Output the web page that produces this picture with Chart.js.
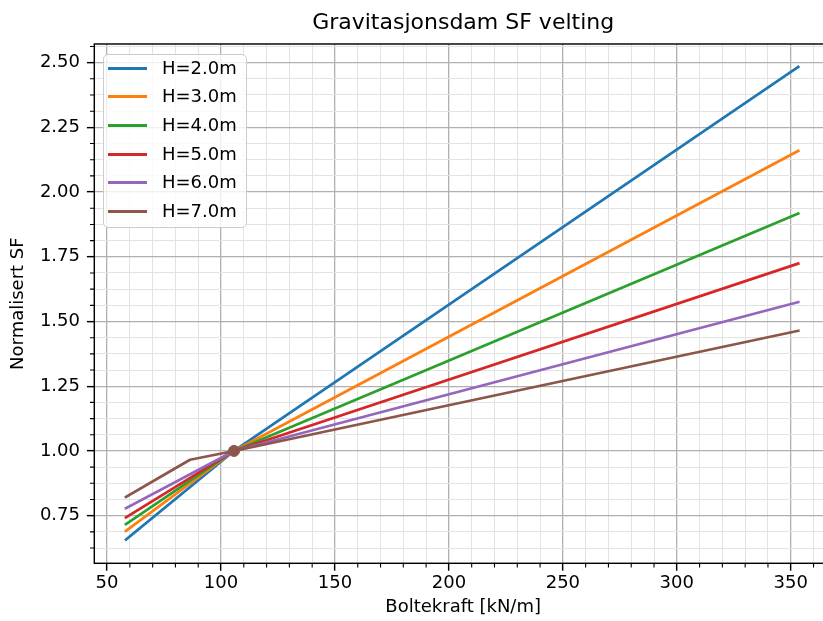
<!DOCTYPE html>
<html lang="no">
<head>
<meta charset="utf-8">
<title>Gravitasjonsdam SF velting</title>
<style>
  html, body { margin: 0; padding: 0; background: #fff; overflow: hidden; }
  #wrap { position: relative; width: 823px; height: 621px; overflow: hidden; }
  #chart { position: absolute; left: 0; top: 0; }
  #legend {
    position: absolute; left: 103px; top: 54px; width: 144px; height: 174px;
    box-sizing: border-box; border: 1.5px solid #cccccc; border-radius: 5px;
    background: rgba(255,255,255,0.8);
    font-family: 'DejaVu Sans'; font-size: 18px; color: #000;
  }
  .row { position: absolute; left: 0; width: 130px; height: 22px; line-height: 22px; white-space: nowrap; }
  .swatch { position: absolute; left: 4px; top: 10px; width: 39px; height: 3px; }
  .lbl { position: absolute; left: 58px; top: 0; }
</style>
</head>
<body>
<div id="wrap">
  <canvas id="chart" width="840" height="621"></canvas>
  <div id="legend"></div>
</div>
<script src="https://cdn.jsdelivr.net/npm/chart.js@4.4.1/dist/chart.umd.min.js"></script>
<script>
// data
const seriesLabels = ['H=2.0m', 'H=3.0m', 'H=4.0m', 'H=5.0m', 'H=6.0m', 'H=7.0m'];
const seriesColors = ['#1f77b4', '#ff7f0e', '#2ca02c', '#d62728', '#9467bd', '#8c564b'];
const boltX   = [58.3, 105.7, 353.3];
const boltXH7 = [58.3, 86.4, 105.7, 353.3];
const sfH2 = [0.658, 1.0, 2.484];
const sfH3 = [0.691, 1.0, 2.159];
const sfH4 = [0.717, 1.0, 1.917];
const sfH5 = [0.743, 1.0, 1.724];
const sfH6 = [0.779, 1.0, 1.575];
const sfH7 = [0.822, 0.966, 1.0, 1.464];
const refX = [105.7];
const refY = [1.0];

const seriesX = [boltX, boltX, boltX, boltX, boltX, boltXH7];
const seriesY = [sfH2, sfH3, sfH4, sfH5, sfH6, sfH7];

const xMin = 44.4, xMax = 368.1;
const yMin = 0.566, yMax = 2.572;

Chart.defaults.font.family = 'DejaVu Sans';
Chart.defaults.font.size = 18;
Chart.defaults.color = '#000';

function isMajorX(v) { return Math.abs(v / 50 - Math.round(v / 50)) < 1e-6; }
function isMajorY(v) { return Math.abs(v * 4 - Math.round(v * 4)) < 1e-6; }

var datasets = seriesLabels.map(function (lab, i) {
  return {
    label: lab,
    data: seriesX[i].map(function (x, j) { return {x: x, y: seriesY[i][j]}; }),
    borderColor: seriesColors[i],
    backgroundColor: seriesColors[i],
    borderWidth: 2.7,
    borderCapStyle: 'square',
    borderJoinStyle: 'round',
    pointRadius: 0,
    tension: 0,
    order: seriesLabels.length - i
  };
});
datasets.push({
  label: 'ref',
  data: refX.map(function (x, j) { return {x: x, y: refY[j]}; }),
  showLine: false,
  pointRadius: 5.5,
  pointBackgroundColor: seriesColors[5],
  pointBorderColor: seriesColors[5],
  pointBorderWidth: 1,
  order: 0
});

// minor ticks and axes frame
const framePlugin = {
  id: 'frame',
  afterDraw: function (chart) {
    var c = chart.ctx, a = chart.chartArea;
    var xs = chart.scales.x, ys = chart.scales.y;
    c.save();
    c.strokeStyle = '#000';
    c.lineWidth = 1.1;
    c.beginPath();
    xs.ticks.forEach(function (t) {
      if (isMajorX(t.value)) return;
      var px = xs.getPixelForValue(t.value);
      c.moveTo(px, a.bottom); c.lineTo(px, a.bottom + 4.3);
    });
    ys.ticks.forEach(function (t) {
      if (isMajorY(t.value)) return;
      var py = ys.getPixelForValue(t.value);
      c.moveTo(a.left - 4.3, py); c.lineTo(a.left, py);
    });
    c.stroke();
    c.lineWidth = 1.44;
    c.strokeRect(a.left, a.top, a.right - a.left, a.bottom - a.top);
    c.restore();
  }
};

new Chart(document.getElementById('chart'), {
  type: 'line',
  data: { datasets: datasets },
  options: {
    responsive: false,
    animation: false,
    layout: { padding: { left: 0, top: 0, right: 8, bottom: 0 } },
    plugins: {
      legend: { display: false },
      tooltip: { enabled: false },
      title: {
        display: true,
        text: 'Gravitasjonsdam SF velting',
        fullSize: false,
        font: { size: 22, weight: 'normal' },
        color: '#000',
        padding: { top: 10, bottom: 7.6 }
      }
    },
    scales: {
      x: {
        type: 'linear',
        min: xMin, max: xMax,
        afterBuildTicks: function (s) {
          var t = [];
          for (var v = Math.ceil(xMin / 10) * 10; v <= xMax; v += 10) t.push({value: v});
          s.ticks = t;
        },
        afterFit: function (s) { s.height = 57.7; },
        ticks: {
          autoSkip: false, maxRotation: 0, padding: 2,
          callback: function (v) { return isMajorX(v) ? String(Math.round(v)) : ''; }
        },
        grid: {
          color: function (ctx) { return isMajorX(ctx.tick.value) ? '#b0b0b0' : '#e3e3e3'; },
          lineWidth: function (ctx) { return isMajorX(ctx.tick.value) ? 1.3 : 1; },
          tickLength: 7.4,
          tickColor: function (ctx) { return isMajorX(ctx.tick.value) ? '#000' : 'rgba(0,0,0,0)'; },
          tickWidth: 1.44
        },
        border: { display: false },
        title: { display: true, text: 'Boltekraft [kN/m]', padding: { top: 0, bottom: 3.2 } }
      },
      y: {
        type: 'linear',
        min: yMin, max: yMax,
        afterBuildTicks: function (s) {
          var t = [];
          for (var k = Math.ceil(yMin / 0.0625); k * 0.0625 <= yMax; k++) t.push({value: k * 0.0625});
          s.ticks = t;
        },
        afterFit: function (s) { s.width = 94.3; },
        ticks: {
          autoSkip: false, padding: 6.9,
          callback: function (v) { return isMajorY(v) ? v.toFixed(2) : ''; }
        },
        grid: {
          color: function (ctx) { return isMajorY(ctx.tick.value) ? '#b0b0b0' : '#e3e3e3'; },
          lineWidth: function (ctx) { return isMajorY(ctx.tick.value) ? 1.3 : 1; },
          tickLength: 7.4,
          tickColor: function (ctx) { return isMajorY(ctx.tick.value) ? '#000' : 'rgba(0,0,0,0)'; },
          tickWidth: 1.44
        },
        border: { display: false },
        title: { display: true, text: 'Normalisert SF', padding: { top: 8, bottom: 0 } }
      }
    }
  },
  plugins: [framePlugin]
});

// legend box inside the axes, like the original
var leg = document.getElementById('legend');
seriesLabels.forEach(function (lab, i) {
  var row = document.createElement('div');
  row.className = 'row';
  row.style.top = Math.round(1.8 + i * 28.6) + 'px';
  row.innerHTML = '<span class="swatch" style="background:' + seriesColors[i] + '"></span><span class="lbl"></span>';
  row.querySelector('.lbl').textContent = lab;
  leg.appendChild(row);
});
</script>
</body>
</html>
